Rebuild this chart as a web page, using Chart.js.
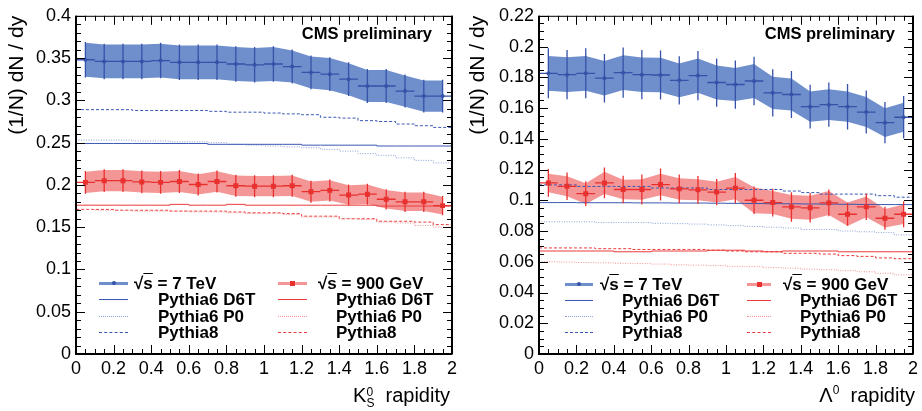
<!DOCTYPE html>
<html>
<head>
<meta charset="utf-8">
<title>K0S and Lambda rapidity distributions</title>
<script src="https://cdn.jsdelivr.net/npm/chart.js@4.4.1/dist/chart.umd.min.js"></script>
<style>
  body { margin: 0; background: #fff; }
  #wrap { position: relative; width: 922px; height: 411px; overflow: hidden;
          font-family: "Liberation Sans", Arial, sans-serif; color: #000; }
  canvas { position: absolute; top: 0; }
  .t { position: absolute; white-space: nowrap; }
  .cms { font-weight: bold; font-size: 16.5px; line-height: 16.5px; }
  .leg { font-weight: bold; font-size: 17px; line-height: 17px; }
  .xt { font-size: 20px; line-height: 20px; }
  .ov { text-decoration: overline; }
  .ss { display: inline-block; vertical-align: -5px; font-size: 12px; line-height: 11px; }
  .sup { font-size: 12px; vertical-align: 8px; line-height: 0; }
  .sw { position: absolute; }
</style>
</head>
<body>
<div id="wrap">
  <canvas id="k0s" width="461" height="411" style="left:0"></canvas>
  <canvas id="lam" width="461" height="411" style="left:461px"></canvas>

  <div class="t cms" style="right:490px; top:25px">CMS preliminary</div>
  <div class="t cms" style="right:27px; top:25px">CMS preliminary</div>

  <div class="t xt" style="right:472px; top:385px">K<span class="ss">0<br>S</span>&nbsp; rapidity</div>
  <div class="t xt" style="right:7px; top:385px">&Lambda;<span class="sup">0</span>&nbsp; rapidity</div>

  <!-- legend, left panel -->
  <div class="sw" id="lk1" style="left:99px; top:283px; width:29px"></div>
  <div class="sw" id="lk2" style="left:99px; top:299px; width:29px"></div>
  <div class="sw" id="lk3" style="left:99px; top:316px; width:29px"></div>
  <div class="sw" id="lk4" style="left:99px; top:332px; width:29px"></div>
  <div class="t leg" style="left:134px; top:275px">&radic;<span class="ov">s</span> = 7 TeV</div>
  <div class="t leg" style="left:158px; top:291px">Pythia6 D6T</div>
  <div class="t leg" style="left:158px; top:308px">Pythia6 P0</div>
  <div class="t leg" style="left:158px; top:324px">Pythia8</div>
  <div class="sw" id="lk5" style="left:278px; top:283px; width:29px"></div>
  <div class="sw" id="lk6" style="left:278px; top:299px; width:29px"></div>
  <div class="sw" id="lk7" style="left:278px; top:316px; width:29px"></div>
  <div class="sw" id="lk8" style="left:278px; top:332px; width:29px"></div>
  <div class="t leg" style="left:318px; top:275px">&radic;<span class="ov">s</span> = 900 GeV</div>
  <div class="t leg" style="left:336px; top:291px">Pythia6 D6T</div>
  <div class="t leg" style="left:336px; top:308px">Pythia6 P0</div>
  <div class="t leg" style="left:336px; top:324px">Pythia8</div>

  <!-- legend, right panel -->
  <div class="sw" id="ll1" style="left:565px; top:284px; width:28px"></div>
  <div class="sw" id="ll2" style="left:565px; top:300px; width:28px"></div>
  <div class="sw" id="ll3" style="left:565px; top:316px; width:28px"></div>
  <div class="sw" id="ll4" style="left:565px; top:332px; width:28px"></div>
  <div class="t leg" style="left:600px; top:276px">&radic;<span class="ov">s</span> = 7 TeV</div>
  <div class="t leg" style="left:622px; top:292px">Pythia6 D6T</div>
  <div class="t leg" style="left:622px; top:308px">Pythia6 P0</div>
  <div class="t leg" style="left:622px; top:324px">Pythia8</div>
  <div class="sw" id="ll5" style="left:747px; top:284px; width:24px"></div>
  <div class="sw" id="ll6" style="left:747px; top:300px; width:24px"></div>
  <div class="sw" id="ll7" style="left:747px; top:316px; width:24px"></div>
  <div class="sw" id="ll8" style="left:747px; top:332px; width:24px"></div>
  <div class="t leg" style="left:783px; top:276px">&radic;<span class="ov">s</span> = 900 GeV</div>
  <div class="t leg" style="left:800px; top:292px">Pythia6 D6T</div>
  <div class="t leg" style="left:800px; top:308px">Pythia6 P0</div>
  <div class="t leg" style="left:800px; top:324px">Pythia8</div>
</div>

<script>
const binCenters = [0.05, 0.15, 0.25, 0.35, 0.45, 0.55, 0.65, 0.75, 0.85, 0.95,
                    1.05, 1.15, 1.25, 1.35, 1.45, 1.55, 1.65, 1.75, 1.85, 1.95];
const binEdges = [0, 0.1, 0.2, 0.3, 0.4, 0.5, 0.6, 0.7, 0.8, 0.9, 1,
                  1.1, 1.2, 1.3, 1.4, 1.5, 1.6, 1.7, 1.8, 1.9, 2];
const halfBin = 0.05;

const xTickLabels = [0, 0.2, 0.4, 0.6, 0.8, 1, 1.2, 1.4, 1.6, 1.8, 2];
const k0sYTickLabels = [0, 0.05, 0.1, 0.15, 0.2, 0.25, 0.3, 0.35, 0.4];
const lamYTickLabels = [0, 0.02, 0.04, 0.06, 0.08, 0.1, 0.12, 0.14, 0.16, 0.18, 0.2, 0.22];

// K0S, data
const k0s7TeV = [0.348, 0.346, 0.346, 0.346, 0.347, 0.345, 0.345, 0.345, 0.343, 0.342,
                 0.343, 0.340, 0.333, 0.331, 0.325, 0.317, 0.317, 0.311, 0.305, 0.305];
const k0s7TeVSys = [0.020, 0.020, 0.020, 0.020, 0.020, 0.020, 0.020, 0.020, 0.020, 0.020,
                    0.020, 0.019, 0.019, 0.019, 0.019, 0.019, 0.019, 0.0185, 0.0185, 0.0185];
const k0s7TeVErr = [0.021, 0.021, 0.021, 0.021, 0.021, 0.021, 0.021, 0.021, 0.021, 0.021,
                    0.021, 0.020, 0.020, 0.020, 0.020, 0.020, 0.020, 0.0195, 0.0195, 0.0195];
const k0s900GeV = [0.203, 0.205, 0.205, 0.2035, 0.203, 0.204, 0.2005, 0.204, 0.199, 0.1985,
                   0.1985, 0.199, 0.192, 0.1935, 0.188, 0.189, 0.183, 0.180, 0.180, 0.1755];
const k0s900GeVSys = [0.0125, 0.0125, 0.0125, 0.0125, 0.0125, 0.0125, 0.012, 0.012, 0.012, 0.012,
                      0.012, 0.012, 0.012, 0.012, 0.0115, 0.0115, 0.011, 0.011, 0.011, 0.0105];
const k0s900GeVErr = [0.0135, 0.0135, 0.0135, 0.0135, 0.0135, 0.0135, 0.013, 0.013, 0.013, 0.013,
                      0.013, 0.013, 0.013, 0.013, 0.0125, 0.0125, 0.012, 0.012, 0.012, 0.0115];

// K0S, Monte Carlo
const k0s7D6T = [0.249, 0.249, 0.249, 0.249, 0.249, 0.249, 0.249, 0.248, 0.248, 0.248,
                 0.248, 0.248, 0.247, 0.247, 0.247, 0.247, 0.246, 0.246, 0.246, 0.246];
const k0s7P0 = [0.253, 0.253, 0.253, 0.252, 0.252, 0.251, 0.251, 0.250, 0.248, 0.247,
                0.246, 0.245, 0.244, 0.242, 0.240, 0.237, 0.235, 0.232, 0.229, 0.226];
const k0s7Py8 = [0.289, 0.289, 0.289, 0.288, 0.288, 0.288, 0.288, 0.287, 0.286, 0.286,
                 0.285, 0.284, 0.283, 0.280, 0.279, 0.276, 0.275, 0.272, 0.270, 0.268];
const k0s900D6T = [0.176, 0.176, 0.176, 0.176, 0.176, 0.177, 0.176, 0.176, 0.177, 0.176,
                   0.176, 0.176, 0.176, 0.176, 0.176, 0.176, 0.175, 0.175, 0.175, 0.175];
const k0s900P0 = [0.171, 0.170, 0.170, 0.169, 0.169, 0.169, 0.168, 0.168, 0.167, 0.166,
                  0.166, 0.165, 0.162, 0.162, 0.160, 0.159, 0.156, 0.155, 0.152, 0.150];
const k0s900Py8 = [0.171, 0.171, 0.170, 0.170, 0.170, 0.169, 0.169, 0.169, 0.168, 0.167,
                   0.167, 0.166, 0.163, 0.163, 0.160, 0.160, 0.157, 0.157, 0.156, 0.153];

// Lambda, data
const lam7TeV = [0.1826, 0.1817, 0.1826, 0.1794, 0.1830, 0.1817, 0.1815, 0.1780, 0.1811, 0.1766,
                 0.1753, 0.1776, 0.1699, 0.1688, 0.1609, 0.1622, 0.1609, 0.1574, 0.1505, 0.1540];
const lam7TeVSys = [0.0113, 0.0113, 0.0113, 0.0112, 0.0113, 0.0112, 0.0112, 0.0110, 0.0112, 0.0110,
                    0.0108, 0.0110, 0.0105, 0.0104, 0.0099, 0.0100, 0.0099, 0.0097, 0.0093, 0.0095];
const lam7TeVErr = [0.0163, 0.0160, 0.0163, 0.0158, 0.0163, 0.0160, 0.0160, 0.0157, 0.0160, 0.0157,
                    0.0157, 0.0158, 0.0154, 0.0153, 0.0142, 0.0144, 0.0148, 0.0140, 0.0134, 0.0138];
const lam900GeV = [0.1113, 0.1091, 0.1043, 0.1113, 0.1070, 0.1070, 0.1102, 0.1074, 0.1068, 0.1053,
                   0.1079, 0.1000, 0.0985, 0.0957, 0.0951, 0.0983, 0.0909, 0.0957, 0.0883, 0.0909];
const lam900GeVSys = [0.0060, 0.0065, 0.0068, 0.0072, 0.0064, 0.0066, 0.0070, 0.0070, 0.0068, 0.0068,
                      0.0072, 0.0085, 0.0075, 0.0078, 0.0078, 0.0078, 0.0076, 0.0068, 0.0060, 0.0064];
const lam900GeVErr = [0.0090, 0.0090, 0.0080, 0.0100, 0.0090, 0.0098, 0.0104, 0.0094, 0.0090, 0.0085,
                      0.0098, 0.0090, 0.0090, 0.0096, 0.0096, 0.0087, 0.0075, 0.0085, 0.0075, 0.0085];

// Lambda, Monte Carlo
const lam7D6T = [0.0985, 0.0985, 0.0984, 0.0984, 0.0984, 0.0983, 0.0983, 0.0982, 0.0982, 0.0981,
                 0.0980, 0.0979, 0.0978, 0.0977, 0.0976, 0.0975, 0.0974, 0.0973, 0.0972, 0.0972];
const lam7P0 = [0.0860, 0.0860, 0.0860, 0.0855, 0.0855, 0.0855, 0.0850, 0.0848, 0.0845, 0.0840,
                0.0835, 0.0830, 0.0825, 0.0820, 0.0810, 0.0810, 0.0800, 0.0795, 0.0790, 0.0775];
const lam7Py8 = [0.1100, 0.1100, 0.1090, 0.1090, 0.1090, 0.1090, 0.1080, 0.1080, 0.1080, 0.1070,
                 0.1070, 0.1070, 0.1070, 0.1060, 0.1050, 0.1040, 0.1040, 0.1040, 0.1030, 0.1020];
const lam900D6T = [0.0670, 0.0670, 0.0670, 0.0670, 0.0665, 0.0665, 0.0670, 0.0670, 0.0670, 0.0675,
                   0.0675, 0.0670, 0.0665, 0.0670, 0.0670, 0.0670, 0.0665, 0.0665, 0.0665, 0.0665];
const lam900P0 = [0.0600, 0.0598, 0.0595, 0.0593, 0.0590, 0.0588, 0.0585, 0.0580, 0.0578, 0.0575,
                  0.0570, 0.0568, 0.0562, 0.0558, 0.0552, 0.0548, 0.0542, 0.0535, 0.0525, 0.0515];
const lam900Py8 = [0.0690, 0.0690, 0.0690, 0.0685, 0.0685, 0.0680, 0.0680, 0.0680, 0.0680, 0.0675,
                   0.0670, 0.0665, 0.0665, 0.0655, 0.0655, 0.0650, 0.0640, 0.0635, 0.0625, 0.0620];

const BLUE = '#3552a8', BLUE_BAND = 'rgb(110,142,204)', BLUE_MC = '#3a58b2', BLUE_P0 = '#8fa2d6';
const RED = '#e8302f', RED_BAND = 'rgb(245,150,150)', RED_MC = '#ec3a3a', RED_P0 = '#f19393';

Chart.defaults.font.family = '"Liberation Sans", Arial, sans-serif';
Chart.defaults.color = '#000';

const pts = vals => vals.map((v, i) => ({x: binCenters[i], y: v}));
const shifted = (vals, err, s) => vals.map((v, i) => ({x: binCenters[i], y: v + s * err[i]}));
const steps = vals => binEdges.map((e, i) => ({x: e, y: vals[Math.min(i, vals.length - 1)]}));
const fmt = v => String(Math.round(v * 1000) / 1000);

function measured(vals, err, sys, color, bandColor, style, r) {
  return [
    {data: pts(vals), errY: err, showLine: false, pointStyle: style, pointRadius: r,
     pointBackgroundColor: color, pointBorderColor: color, pointBorderWidth: 0, order: 0},
    {data: shifted(vals, sys, 1), fill: '+1', backgroundColor: bandColor, borderWidth: 0,
     pointRadius: 0, order: 3},
    {data: shifted(vals, sys, -1), fill: false, borderWidth: 0, pointRadius: 0, order: 3}
  ];
}

function mc(vals, color, dash) {
  return {data: steps(vals), stepped: 'before', borderColor: color, borderWidth: 1,
          borderDash: dash, pointRadius: 0, fill: false, order: 1};
}

const errorBars = {
  id: 'errorBars',
  beforeDatasetDraw(chart, args) {
    const ds = chart.data.datasets[args.index];
    if (!ds.errY) return;
    const {ctx, scales: {x, y}} = chart;
    ctx.save();
    ctx.strokeStyle = ds.pointBorderColor;
    ctx.lineWidth = 1.3;
    ctx.beginPath();
    ds.data.forEach((p, i) => {
      const px = x.getPixelForValue(p.x), py = y.getPixelForValue(p.y);
      ctx.moveTo(x.getPixelForValue(p.x - halfBin), py);
      ctx.lineTo(x.getPixelForValue(p.x + halfBin), py);
      ctx.moveTo(px, y.getPixelForValue(p.y + ds.errY[i]));
      ctx.lineTo(px, y.getPixelForValue(p.y - ds.errY[i]));
    });
    ctx.stroke();
    ctx.restore();
  }
};

function withMinors(majors, n) {
  const out = [];
  for (let i = 0; i < majors.length - 1; i++) {
    for (let k = 1; k < n; k++) out.push(majors[i] + (majors[i + 1] - majors[i]) * k / n);
  }
  return out;
}

function frameTicks(xMajors, xSub, yMajors, ySub) {
  return {
    id: 'frameTicks',
    afterDraw(chart) {
      const {ctx, chartArea: a, scales: {x, y}} = chart;
      ctx.save();
      ctx.strokeStyle = '#000';
      ctx.lineWidth = 1;
      ctx.beginPath();
      const xt = (vals, len) => vals.forEach(v => {
        const p = Math.round(x.getPixelForValue(v)) + 0.5;
        ctx.moveTo(p, a.bottom); ctx.lineTo(p, a.bottom - len);
        ctx.moveTo(p, a.top); ctx.lineTo(p, a.top + len);
      });
      const yt = (vals, len) => vals.forEach(v => {
        const p = Math.round(y.getPixelForValue(v)) + 0.5;
        ctx.moveTo(a.left, p); ctx.lineTo(a.left + len, p);
        ctx.moveTo(a.right, p); ctx.lineTo(a.right - len, p);
      });
      xt(xMajors, 9); xt(withMinors(xMajors, xSub), 5);
      yt(yMajors, 9); yt(withMinors(yMajors, ySub), 5);
      ctx.stroke();
      ctx.lineWidth = 1;
      ctx.strokeRect(a.left, a.top + 0.5, a.right - a.left, a.bottom - a.top);
      ctx.lineWidth = 2;
      ctx.beginPath();
      ctx.moveTo(a.left, a.top); ctx.lineTo(a.left, a.bottom); ctx.lineTo(a.right, a.bottom);
      ctx.moveTo(a.right, a.top); ctx.lineTo(a.right, a.bottom);
      ctx.stroke();
      ctx.restore();
    }
  };
}

function makeChart(id, datasets, yMax, yTicks, ySub, yWidth, padTop, padRight) {
  return new Chart(document.getElementById(id), {
    type: 'line',
    data: {datasets},
    options: {
      responsive: false,
      animation: false,
      devicePixelRatio: 1,
      layout: {padding: {top: padTop, right: padRight, left: 0, bottom: 0}},
      plugins: {legend: {display: false}, tooltip: {enabled: false}},
      scales: {
        x: {
          type: 'linear', min: 0, max: 2,
          grid: {display: false, drawTicks: false}, border: {display: false},
          afterBuildTicks: s => { s.ticks = xTickLabels.map(v => ({value: v})); },
          afterFit: s => { s.height = 57; },
          ticks: {padding: 4, font: {size: 18}, maxRotation: 0, autoSkip: false, callback: fmt}
        },
        y: {
          type: 'linear', min: 0, max: yMax,
          grid: {display: false, drawTicks: false}, border: {display: false},
          afterBuildTicks: s => { s.ticks = yTicks.map(v => ({value: v})); },
          afterFit: s => { s.width = yWidth; },
          ticks: {padding: 5, font: {size: 18}, autoSkip: false, callback: fmt},
          title: {display: true, text: '(1/N) dN / dy', align: 'end', font: {size: 21},
                  padding: {top: 5, bottom: 0}}
        }
      }
    },
    plugins: [errorBars, frameTicks(xTickLabels, 4, yTicks, ySub)]
  });
}

document.addEventListener('DOMContentLoaded', () => {
  makeChart('k0s', [
    ...measured(k0s7TeV, k0s7TeVErr, k0s7TeVSys, BLUE, BLUE_BAND, 'circle', 2),
    ...measured(k0s900GeV, k0s900GeVErr, k0s900GeVSys, RED, RED_BAND, 'rect', 3.5),
    mc(k0s7D6T, BLUE_MC, []), mc(k0s7P0, BLUE_P0, [1, 1.5]), mc(k0s7Py8, BLUE_MC, [3, 2]),
    mc(k0s900D6T, RED_MC, []), mc(k0s900P0, RED_P0, [1, 1.5]), mc(k0s900Py8, RED_MC, [3, 2])
  ], 0.4, k0sYTickLabels, 5, 76, 12, 9);

  makeChart('lam', [
    ...measured(lam7TeV, lam7TeVErr, lam7TeVSys, BLUE, BLUE_BAND, 'circle', 2),
    ...measured(lam900GeV, lam900GeVErr, lam900GeVSys, RED, RED_BAND, 'rect', 3.5),
    mc(lam7D6T, BLUE_MC, []), mc(lam7P0, BLUE_P0, [1, 1.5]), mc(lam7Py8, BLUE_MC, [3, 2]),
    mc(lam900D6T, RED_MC, []), mc(lam900P0, RED_P0, [1, 1.5]), mc(lam900Py8, RED_MC, [3, 2])
  ], 0.22, lamYTickLabels, 4, 78, 13, 6);

  // legend swatches
  const swatch = (id, kind, color, band, mark, round) => {
    const el = document.getElementById(id);
    if (kind === 'data') {
      el.style.height = '3px';
      el.style.marginTop = '-1.5px';
      el.style.background = band;
      el.innerHTML = '<div style="position:absolute;left:50%;top:50%;width:' + mark + 'px;height:' + mark +
        'px;margin:-' + (mark / 2) + 'px 0 0 -' + (mark / 2) + 'px;background:' + color +
        ';border-radius:' + (round ? '50%' : '0') + '"></div>';
    } else {
      el.style.height = '0';
      el.style.borderTop = '1px ' + kind + ' ' + color;
    }
  };
  ['lk', 'll'].forEach(p => {
    swatch(p + '1', 'data', BLUE, BLUE_BAND, 4, true);
    swatch(p + '2', 'solid', BLUE_MC);
    swatch(p + '3', 'dotted', BLUE_P0);
    swatch(p + '4', 'dashed', BLUE_MC);
    swatch(p + '5', 'data', RED, RED_BAND, 5, false);
    swatch(p + '6', 'solid', RED_MC);
    swatch(p + '7', 'dotted', RED_P0);
    swatch(p + '8', 'dashed', RED_MC);
  });
});
</script>
</body>
</html>
